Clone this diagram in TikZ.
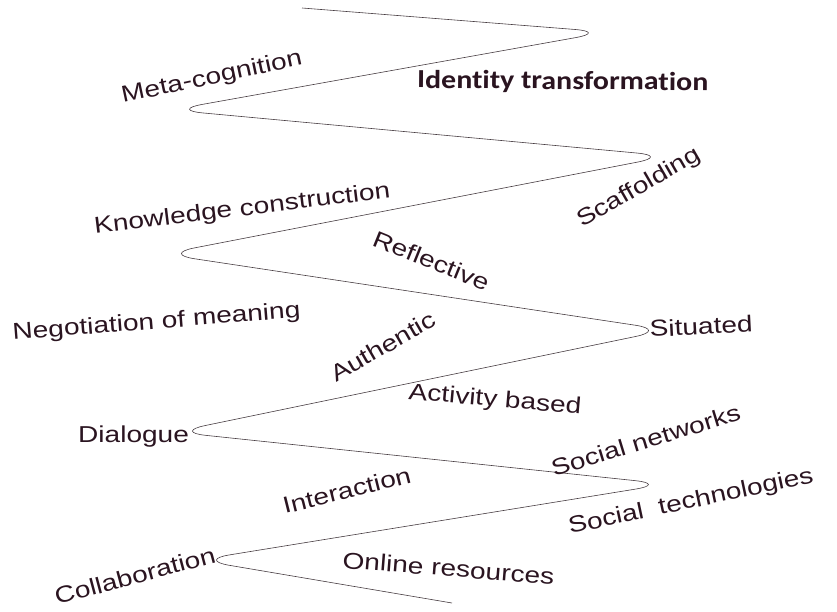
\documentclass[tikz,border=0pt]{standalone}
\usepackage{fontspec}
\setmainfont{Liberation Sans}[FakeStretch=1.22]
\newfontfamily\idfont{Carlito}[FakeStretch=1.15,Ligatures=NoCommon]
\definecolor{txtc}{RGB}{42,20,32}
\definecolor{wavec}{RGB}{70,60,65}
\begin{document}
\begin{tikzpicture}[x=1pt,y=-1pt,
  lbl/.style={anchor=base west, inner sep=0pt, text=txtc, font=\fontsize{23}{27}\selectfont},
  idlbl/.style={anchor=base west, inner sep=0pt, text=txtc, font=\idfont\bfseries\fontsize{26}{30}\selectfont},
  wave/.style={draw=wavec, line width=0.6pt, rounded corners=32pt}]
\useasboundingbox (0,0) rectangle (837,612);
% wave coordinates
\coordinate (s0) at (302,8);
\coordinate (r0) at (607,32);
\coordinate (l1) at (171,110);
\coordinate (r1) at (669,156);
\coordinate (l2) at (163,254);
\coordinate (r2) at (667,330);
\coordinate (l3) at (174,432);
\coordinate (r3) at (667,484);
\coordinate (l4) at (198,560);
\coordinate (e0) at (452,603);
\draw[wave] (s0) -- (r0) -- (l1) -- (r1) -- (l2) -- (r2) -- (l3) -- (r3) -- (l4) -- (e0);
% labels
\node[lbl, rotate=12] (meta) at (123,103) {Meta-cognition};
\node[idlbl, rotate=-0.5] (ident) at (417,88) {Identity transformation};
\node[lbl, rotate=7] (know) at (95,234) {Knowledge construction};
\node[lbl, rotate=30] (scaf) at (582,228) {Scaffolding};
\node[lbl, rotate=-22] (refl) at (371,245) {Reflective};
\node[lbl, rotate=4.5] (nego) at (13,340) {Negotiation of meaning};
\node[lbl, rotate=3] (situ) at (650,337) {Situated};
\node[lbl, rotate=30] (auth) at (336,383) {Authentic};
\node[lbl, rotate=-5] (acti) at (408,399) {Activity based};
\node[lbl] (dial) at (78,442) {Dialogue};
\node[lbl, rotate=17] (snet) at (554,477) {Social networks};
\node[lbl, rotate=14] (inte) at (285,514) {Interaction};
\node[lbl, rotate=12] (stec) at (570,534) {Social\ \ technologies};
\node[lbl, rotate=15] (coll) at (57,605) {Collaboration};
\node[lbl, rotate=-4.5] (onli) at (342,568) {Online resources};
\end{tikzpicture}
\end{document}
